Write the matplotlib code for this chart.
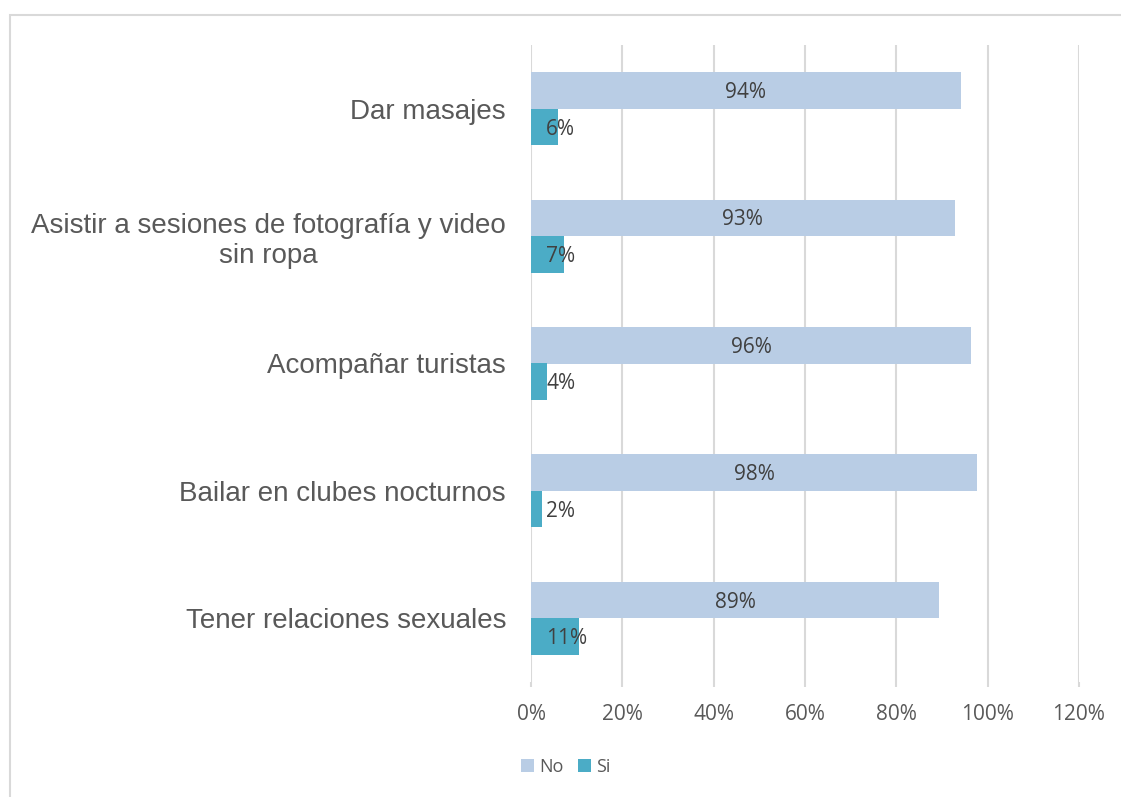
import matplotlib
matplotlib.use("Agg")
import matplotlib.pyplot as plt
import matplotlib.patches as patches
import numpy as np

# Data
categorias = ["Dar masajes",
              "Asistir a sesiones de fotografía y video\nsin ropa",
              "Acompañar turistas",
              "Bailar en clubes nocturnos",
              "Tener relaciones sexuales"]
no_vals = [0.941, 0.928, 0.964, 0.977, 0.894]
si_vals = [0.059, 0.072, 0.036, 0.023, 0.106]
no_labels = ["94%", "93%", "96%", "98%", "89%"]
si_labels = ["6%", "7%", "4%", "2%", "11%"]
ticks = [0, 0.2, 0.4, 0.6, 0.8, 1.0, 1.2]
tick_labels = ["0%", "20%", "40%", "60%", "80%", "100%", "120%"]

color_no = "#B9CDE5"
color_si = "#4BACC6"
grid_c = "#D9D9D9"
txt_c = "#404040"

fig = plt.figure(figsize=(11.21, 7.97), dpi=100)
ax = fig.add_axes([531/1121, 1-682/797, (1079-531)/1121, (682-45)/797])

y = np.arange(len(categorias))
h = 0.287
ax.barh(y - h/2, no_vals, height=h, color=color_no, label="No", zorder=3)
ax.barh(y + h/2, si_vals, height=h, color=color_si, label="Si", zorder=3)

# data labels
for i in range(len(categorias)):
    ax.annotate(no_labels[i], (no_vals[i]/2, y[i] - h/2), xytext=(0, -1.5), textcoords="offset points",
                ha="center", va="center", fontsize=15, color=txt_c, family="Open Sans", zorder=4)
    ax.annotate(si_labels[i], (0, y[i] + h/2), xytext=(11, -1.5), textcoords="offset points",
                ha="left", va="center", fontsize=15, color=txt_c, family="Open Sans", zorder=4)

ax.set_xlim(0, 1.2)
ax.set_ylim(len(categorias) - 0.5, -0.5)
ax.set_xticks(ticks)
ax.set_xticklabels(tick_labels, family="Open Sans", fontsize=15, color="#595959")
ax.set_yticks(y)
ax.set_yticklabels(categorias, family="Liberation Sans", fontsize=20, color="#595959",
                   multialignment="center")
ax.tick_params(axis="y", length=0, pad=18)
ax.tick_params(axis="x", length=3.5, color=grid_c, width=1.5, pad=12)

ax.grid(axis="x", color=grid_c, linewidth=1.5, zorder=0)
for s in ax.spines.values():
    s.set_visible(False)

fig.legend(loc="center", bbox_to_anchor=(566/1121, 1-767/797), ncol=2, frameon=False,
           handlelength=0.7, handleheight=0.7, handletextpad=0.3, columnspacing=0.8,
           prop={"family": "Open Sans", "size": 13}, labelcolor="#595959")

# outer border of chart area
fig.patches.append(patches.Rectangle((10/1121, -0.1), 1.2, 1.1 - 15/797,
                                     transform=fig.transFigure, fill=False,
                                     edgecolor=grid_c, linewidth=1.5))

fig.savefig("out.png", dpi=100)
